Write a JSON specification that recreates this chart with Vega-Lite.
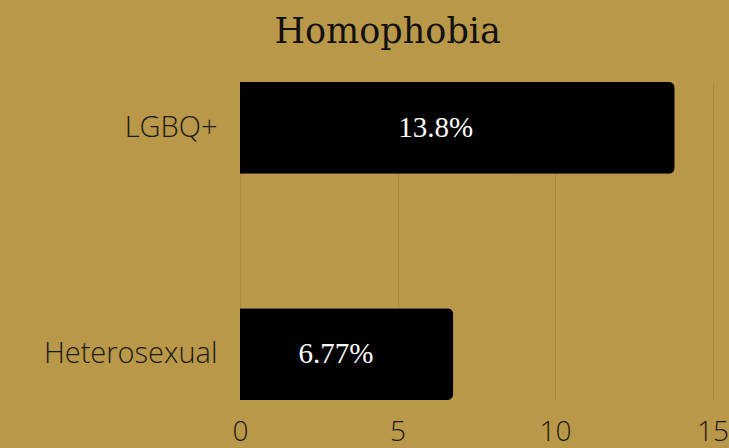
{
  "$schema": "https://vega.github.io/schema/vega-lite/v6.json",
  "width": 504,
  "height": 318,
  "autosize": {"type": "none"},
  "padding": {"left": 240, "top": 82, "right": 17, "bottom": 48},
  "background": "#b99849",
  "config": {
    "view": {"stroke": null},
    "font": "Open Sans"
  },
  "title": {
    "text": "Homophobia",
    "font": "DejaVu Serif",
    "fontSize": 35,
    "fontWeight": "normal",
    "color": "#111111",
    "anchor": "middle",
    "frame": "bounds",
    "dx": -6,
    "offset": 32
  },
  "data": {
    "values": [
      {"group": "LGBQ+", "value": 13.8, "label": "13.8%"},
      {"group": "Heterosexual", "value": 6.77, "label": "6.77%"}
    ]
  },
  "encoding": {
    "y": {
      "field": "group",
      "type": "nominal",
      "sort": ["LGBQ+", "Heterosexual"],
      "scale": {"paddingInner": 0.595, "paddingOuter": 0},
      "axis": {
        "title": null,
        "domain": false,
        "ticks": false,
        "labelFont": "Open Sans",
        "labelFontWeight": 300,
        "labelFontSize": 29,
        "labelColor": "#1c1a12",
        "labelPadding": 23
      }
    }
  },
  "layer": [
    {
      "mark": {"type": "bar", "color": "#000000", "cornerRadiusEnd": 6},
      "encoding": {
        "x": {
          "field": "value",
          "type": "quantitative",
          "scale": {"domain": [0, 15]},
          "axis": {
            "title": null,
            "values": [0, 5, 10, 15],
            "domain": false,
            "ticks": false,
            "grid": true,
            "gridColor": "#9c7f3a",
            "gridWidth": 1,
            "gridOpacity": 0.6,
            "labelFlush": false,
            "labelFont": "Open Sans",
            "labelFontWeight": 300,
            "labelFontSize": 28,
            "labelColor": "#1c1a12",
            "labelPadding": 18
          }
        }
      }
    },
    {
      "transform": [{"calculate": "datum.value * 0.45", "as": "mid"}],
      "mark": {
        "type": "text",
        "color": "#ffffff",
        "font": "Liberation Serif",
        "fontSize": 29,
        "align": "center",
        "baseline": "middle"
      },
      "encoding": {
        "x": {"field": "mid", "type": "quantitative"},
        "text": {"field": "label"}
      }
    }
  ]
}
